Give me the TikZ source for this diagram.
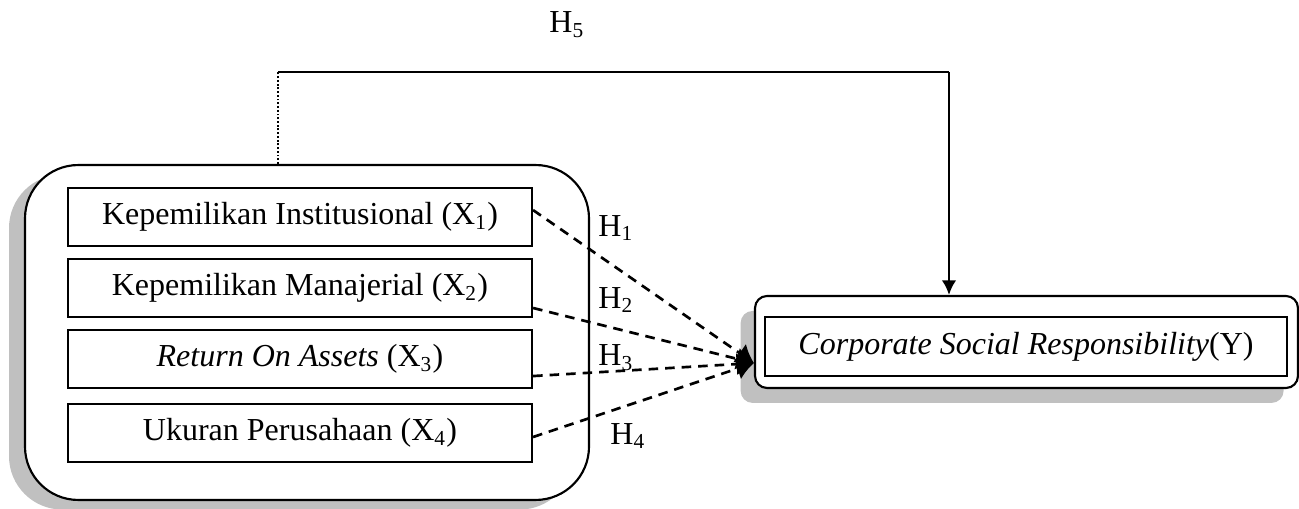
\documentclass[tikz,border=0pt]{standalone}
\usepackage{fontspec}
\setmainfont{Liberation Serif}
\usetikzlibrary{arrows.meta,shadows,calc}
\definecolor{shgray}{RGB}{192,192,192}
\begin{document}
\begin{tikzpicture}[x=0.375pt,y=-0.375pt,
  font=\fontsize{12pt}{14pt}\selectfont,
  varbox/.style={draw,line width=0.8pt,minimum width=174pt,minimum height=21.75pt,inner sep=0pt,fill=white},
  bigbox/.style={draw,line width=0.8pt,rounded corners=20pt,minimum width=211.5pt,minimum height=125.6pt,fill=white,
     drop shadow={shadow xshift=-6pt,shadow yshift=-3.6pt,fill=shgray,opacity=1}},
  csrbox/.style={draw,line width=0.8pt,rounded corners=4.5pt,minimum width=203.6pt,minimum height=34.5pt,fill=white,
     drop shadow={shadow xshift=-5.4pt,shadow yshift=-5.6pt,fill=shgray,opacity=1}},
  hyp/.style={dashed,dash pattern=on 3.6pt off 2.6pt,line width=1pt,-{Latex[length=6.5pt,width=8.5pt]}},
  hlab/.style={inner sep=0pt}]
\useasboundingbox (0,0) rectangle (1299,509);
% outer containers
\node[bigbox] (big) at (307,332.5) {};
\node[csrbox] (csr) at (1026.5,342) {};
% variable boxes
\node[varbox] (b1) at (300,217) {Kepemilikan Institusional (X\textsubscript{1})};
\node[varbox] (b2) at (300,288) {Kepemilikan Manajerial (X\textsubscript{2})};
\node[varbox] (b3) at (300,359) {\textit{Return On Assets} (X\textsubscript{3})};
\node[varbox] (b4) at (300,433) {Ukuran Perusahaan (X\textsubscript{4})};
\node[varbox,minimum width=195.75pt,minimum height=22.1pt] (y) at (1026,346.5) {\textit{Corporate Social Responsibility}(Y)};
% converging point
\coordinate (tip) at ([yshift=-7.9pt]csr.west);
\draw[hyp] ([yshift=2.6pt]b1.east) -- (tip);
\draw[hyp] ([yshift=-7.5pt]b2.east) -- (tip);
\draw[hyp] ([yshift=-6.4pt]b3.east) -- (tip);
\draw[hyp] ([yshift=-1.5pt]b4.east) -- (tip);
% labels
\node[hlab] (h1) at (616,228) {H\textsubscript{1}};
\node[hlab] (h2) at (616,300) {H\textsubscript{2}};
\node[hlab] (h3) at (616,358) {H\textsubscript{3}};
\node[hlab] (h4) at (628,436) {H\textsubscript{4}};
\node[hlab] (h5) at (567,25) {H\textsubscript{5}};
% H5 path
\coordinate (c1) at (278,72);
\coordinate (c2) at (949,72);
\draw[line width=0.6pt,dash pattern=on 0.7pt off 0.7pt] (c1 |- big.north) -- (c1);
\draw[line width=0.9pt] (c1) -- (c2);
\draw[line width=0.9pt,-{Latex[length=5.5pt,width=5.5pt]}] (c2) -- (c2 |- csr.north);
\end{tikzpicture}
\end{document}
